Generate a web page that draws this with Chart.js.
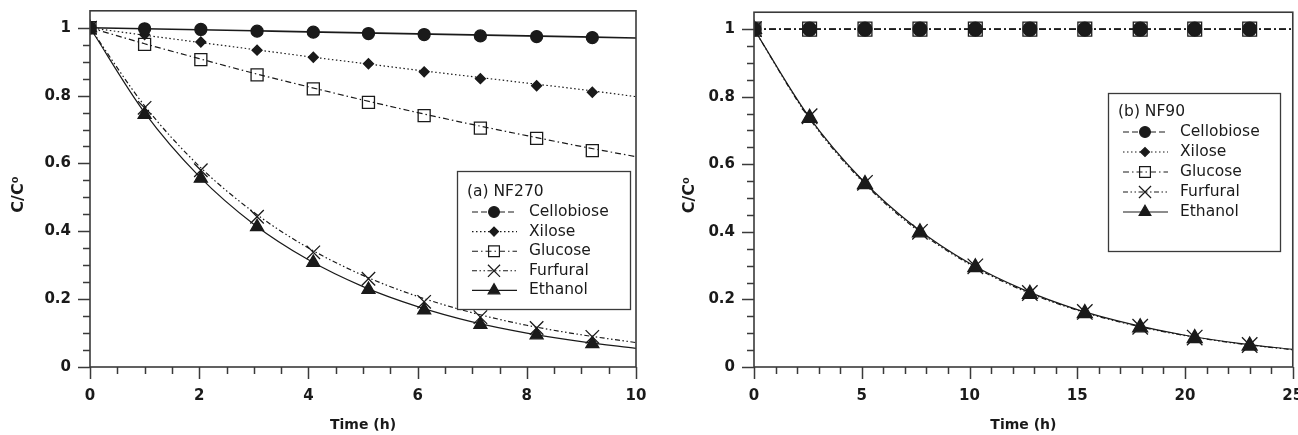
<!DOCTYPE html>
<html>
<head>
<meta charset="utf-8">
<title>Permeate concentration vs time</title>
<script src="https://cdn.jsdelivr.net/npm/chart.js@4.4.0/dist/chart.umd.min.js"></script>
<style>
  html, body { margin: 0; padding: 0; background: #fff; overflow: hidden; }
  .panel { position: absolute; top: 0; }
  #panel-a { left: 0; }
  #panel-b { left: 650px; }
</style>
</head>
<body>
<div class="panel" id="panel-a"><canvas id="chart-a" width="650" height="435"></canvas></div>
<div class="panel" id="panel-b"><canvas id="chart-b" width="655" height="435"></canvas></div>
<script>
  "use strict";

  // (a) NF270 — measured points
  const timesA = [0, 1.0, 2.03, 3.06, 4.09, 5.1, 6.12, 7.15, 8.18, 9.2];
  const cellobioseA = [1, 0.997, 0.995, 0.99, 0.987, 0.983, 0.98, 0.976, 0.974, 0.971];
  const xiloseA = [1, 0.98, 0.958, 0.934, 0.913, 0.894, 0.87, 0.85, 0.829, 0.81];
  const glucoseA = [1, 0.951, 0.906, 0.861, 0.82, 0.78, 0.741, 0.704, 0.674, 0.638];
  const furfuralA = [1, 0.764, 0.58, 0.443, 0.338, 0.26, 0.192, 0.147, 0.115, 0.089];
  const ethanolA = [1, 0.744, 0.556, 0.413, 0.308, 0.228, 0.168, 0.125, 0.094, 0.068];

  // (a) NF270 — fitted curves
  const fitTimesA = [0, 1, 2, 3, 4, 5, 6, 7, 8, 9, 10];
  const cellobioseFitA = [1, 0.997, 0.994, 0.991, 0.988, 0.985, 0.982, 0.979, 0.976, 0.973, 0.97];
  const xiloseFitA = [1, 0.978, 0.957, 0.936, 0.915, 0.895, 0.875, 0.856, 0.837, 0.818, 0.797];
  const glucoseFitA = [1, 0.953, 0.909, 0.866, 0.826, 0.787, 0.75, 0.715, 0.682, 0.65, 0.62];
  const furfuralFitA = [1, 0.77, 0.592, 0.456, 0.351, 0.27, 0.208, 0.16, 0.123, 0.095, 0.072];
  const ethanolFitA = [1, 0.75, 0.562, 0.421, 0.316, 0.237, 0.178, 0.133, 0.1, 0.075, 0.055];

  // (b) NF90 — measured points
  const timesB = [0, 2.58, 5.15, 7.7, 10.27, 12.8, 15.35, 17.92, 20.45, 23.0];
  const cellobioseB = [1, 1, 1, 1, 1, 1, 1, 1, 1, 1];
  const xiloseB = [1, 1, 1, 1, 1, 1, 1, 1, 1, 1];
  const glucoseB = [1, 1, 1, 1, 1, 1, 1, 1, 1, 1];
  const furfuralB = [1, 0.742, 0.545, 0.4, 0.298, 0.219, 0.163, 0.119, 0.087, 0.065];
  const ethanolB = [1, 0.737, 0.541, 0.398, 0.295, 0.216, 0.159, 0.117, 0.085, 0.063];

  // (b) NF90 — fitted curves
  const fitTimesB = [0, 2.5, 5, 7.5, 10, 12.5, 15, 17.5, 20, 22.5, 25];
  const cellobioseFitB = [1, 1, 1, 1, 1, 1, 1, 1, 1, 1, 1];
  const xiloseFitB = [1, 1, 1, 1, 1, 1, 1, 1, 1, 1, 1];
  const glucoseFitB = [1, 1, 1, 1, 1, 1, 1, 1, 1, 1, 1];
  const furfuralFitB = [1, 0.742, 0.551, 0.409, 0.304, 0.226, 0.168, 0.125, 0.093, 0.069, 0.051];
  const ethanolFitB = [1, 0.745, 0.555, 0.413, 0.307, 0.229, 0.17, 0.127, 0.094, 0.07, 0.052];

  const seriesNames = ["Cellobiose", "Xilose", "Glucose", "Furfural", "Ethanol"];

  const INK = "#1a1a1a";
  const AXIS = "#3a3a3a";
  const FONT = "'DejaVu Sans', Verdana, sans-serif";

  const styles = {
    Cellobiose: { dash: [6, 3], pointStyle: "circle", radius: 6, filled: true },
    Xilose: { dash: [1.5, 2.5], pointStyle: "rectRot", radius: 5, filled: true },
    Glucose: { dash: [6, 3, 1.5, 3], pointStyle: "rect", radius: 8.5, filled: false },
    Furfural: { dash: [5, 2.5, 1.5, 2.5, 1.5, 2.5], pointStyle: "crossRot", radius: 9.5, filled: false },
    Ethanol: { dash: [], pointStyle: "triangle", radius: 7.5, filled: true },
  };

  const isMajor = (v, step) => Math.abs(v / step - Math.round(v / step)) < 1e-6;
  const fmt = (v) => String(Math.round(v * 10) / 10);

  // full box round the plot, with long major and short minor ticks pointing out
  const frameTicks = {
    id: "frameTicks",
    afterDatasetsDraw(chart, args, opts) {
      const { ctx, chartArea: a, scales } = chart;
      ctx.save();
      ctx.strokeStyle = AXIS;
      ctx.lineWidth = 1.6;
      ctx.setLineDash([]);
      ctx.strokeRect(a.left, a.top, a.right - a.left, a.bottom - a.top);
      ctx.lineWidth = 1.5;
      ctx.beginPath();
      scales.x.ticks.forEach((t) => {
        const px = Math.round(scales.x.getPixelForValue(t.value)) + 0.5;
        const len = isMajor(t.value, opts.xMajor) ? 12 : 7;
        ctx.moveTo(px, a.bottom);
        ctx.lineTo(px, a.bottom + len);
      });
      scales.y.ticks.forEach((t) => {
        if (t.value > 1.0001) return;
        const py = Math.round(scales.y.getPixelForValue(t.value)) + 0.5;
        const len = isMajor(t.value, opts.yMajor) ? 12 : 7;
        ctx.moveTo(a.left, py);
        ctx.lineTo(a.left - len, py);
      });
      ctx.stroke();
      ctx.restore();
    },
  };

  // boxed key with a title line, line-marker-line samples and names
  const boxLegend = {
    id: "boxLegend",
    afterDraw(chart, args, opts) {
      const { ctx } = chart;
      const { x, y, w, h, title, rowTop, rowGap } = opts;
      ctx.save();
      ctx.fillStyle = "#fff";
      ctx.fillRect(x, y, w, h);
      ctx.strokeStyle = AXIS;
      ctx.lineWidth = 1.3;
      ctx.strokeRect(x + 0.5, y + 0.5, w, h);
      ctx.fillStyle = INK;
      ctx.font = `15.5px ${FONT}`;
      ctx.textBaseline = "middle";
      ctx.fillText(title, x + 10, y + rowTop - 20);
      seriesNames.forEach((name, i) => {
        const st = styles[name];
        const ry = y + rowTop + i * rowGap;
        ctx.strokeStyle = INK;
        ctx.lineWidth = 1.1;
        ctx.setLineDash(st.dash);
        ctx.beginPath();
        ctx.moveTo(x + 15, ry);
        ctx.lineTo(x + 60, ry);
        ctx.stroke();
        ctx.setLineDash([]);
        ctx.fillStyle = st.filled ? INK : "rgba(0,0,0,0)";
        ctx.lineWidth = 1.2;
        Chart.helpers.drawPoint(ctx, { pointStyle: st.pointStyle, radius: st.radius * 0.9, borderWidth: 1.2, rotation: 0 }, x + 37, ry);
        ctx.fillStyle = INK;
        ctx.fillText(name, x + 72, ry);
      });
      ctx.restore();
    },
  };

  function buildDatasets(times, fitTimes, series, markerScale) {
    const marks = series.map((s) => {
      const st = styles[s.name];
      return {
        label: s.name,
        data: times.map((t, i) => ({ x: t, y: s.pts[i] })),
        showLine: false,
        pointStyle: st.pointStyle,
        pointRadius: st.radius * markerScale,
        pointBorderWidth: 1.3,
        pointBorderColor: INK,
        pointBackgroundColor: st.filled ? INK : "rgba(0,0,0,0)",
      };
    });
    const fits = series.map((s) => {
      const st = styles[s.name];
      return {
        label: s.name + " fit",
        data: fitTimes.map((t, i) => ({ x: t, y: s.fit[i] })),
        showLine: true,
        pointRadius: 0,
        borderColor: INK,
        borderWidth: s.lineWidth || 1.2,
        borderDash: s.fitDash || st.dash,
        cubicInterpolationMode: "monotone",
      };
    });
    return marks.concat(fits);
  }

  function makePanel(canvasId, p) {
    const tickFont = { family: FONT, size: 15, weight: "bold" };
    return new Chart(document.getElementById(canvasId).getContext("2d"), {
      type: "scatter",
      data: { datasets: buildDatasets(p.times, p.fitTimes, p.series, p.markerScale) },
      options: {
        responsive: false,
        devicePixelRatio: 1,
        animation: false,
        events: [],
        layout: { padding: { top: 10, right: p.padRight, left: 0, bottom: 0 } },
        plugins: {
          legend: { display: false },
          tooltip: { enabled: false },
          frameTicks: { xMajor: p.xMajor, yMajor: 0.2 },
          boxLegend: p.legend,
        },
        scales: {
          x: {
            type: "linear",
            min: 0,
            max: p.xMax,
            grid: { display: false, drawTicks: false },
            border: { display: false },
            ticks: {
              stepSize: p.xMinor,
              autoSkip: false,
              maxRotation: 0,
              padding: 20,
              color: INK,
              font: tickFont,
              callback: (v) => (isMajor(v, p.xMajor) ? fmt(v) : ""),
            },
            title: {
              display: true,
              text: "Time (h)",
              color: INK,
              font: { family: FONT, size: 14, weight: "bold" },
              padding: { top: 0, bottom: 1 },
            },
            afterFit(s) {
              s.height = 68;
              s.paddingLeft = 0;
              s.paddingRight = 0;
            },
          },
          y: {
            type: "linear",
            min: 0,
            max: 1.05,
            grid: { display: false, drawTicks: false },
            border: { display: false },
            ticks: {
              stepSize: 0.05,
              autoSkip: false,
              padding: 19,
              color: INK,
              font: tickFont,
              callback: (v) => (isMajor(v, 0.2) && v <= 1.0001 ? fmt(v) : ""),
            },
            title: {
              display: true,
              text: "C/C⁰  ",
              color: INK,
              font: { family: FONT, size: 16, weight: "bold" },
              padding: { top: p.yTitlePad, bottom: 0 },
            },
            afterFit(s) {
              s.width = p.yAxisWidth;
              s.paddingTop = 0;
              s.paddingBottom = 0;
            },
          },
        },
      },
      plugins: [frameTicks, boxLegend],
    });
  }

  makePanel("chart-a", {
    times: timesA,
    fitTimes: fitTimesA,
    series: [
      { name: "Cellobiose", pts: cellobioseA, fit: cellobioseFitA, fitDash: [], lineWidth: 1.6 },
      { name: "Xilose", pts: xiloseA, fit: xiloseFitA },
      { name: "Glucose", pts: glucoseA, fit: glucoseFitA },
      { name: "Furfural", pts: furfuralA, fit: furfuralFitA },
      { name: "Ethanol", pts: ethanolA, fit: ethanolFitA },
    ],
    markerScale: 1,
    xMax: 10,
    xMajor: 2,
    xMinor: 0.5,
    yAxisWidth: 90,
    yTitlePad: 9,
    padRight: 14,
    legend: { x: 457, y: 171, w: 173, h: 138, title: "(a) NF270", rowTop: 41, rowGap: 19.6 },
  });

  makePanel("chart-b", {
    times: timesB,
    fitTimes: fitTimesB,
    series: [
      { name: "Cellobiose", pts: cellobioseB, fit: cellobioseFitB, fitDash: [7, 3, 2, 3] },
      { name: "Xilose", pts: xiloseB, fit: xiloseFitB, fitDash: [7, 3, 2, 3] },
      { name: "Glucose", pts: glucoseB, fit: glucoseFitB, fitDash: [7, 3, 2, 3] },
      { name: "Furfural", pts: furfuralB, fit: furfuralFitB },
      { name: "Ethanol", pts: ethanolB, fit: ethanolFitB },
    ],
    markerScale: 1.15,
    xMax: 25,
    xMajor: 5,
    xMinor: 1,
    yAxisWidth: 104,
    yTitlePad: 30,
    padRight: 0,
    legend: { x: 458, y: 93, w: 172, h: 158, title: "(b) NF90", rowTop: 39, rowGap: 20 },
  });
</script>
</body>
</html>
